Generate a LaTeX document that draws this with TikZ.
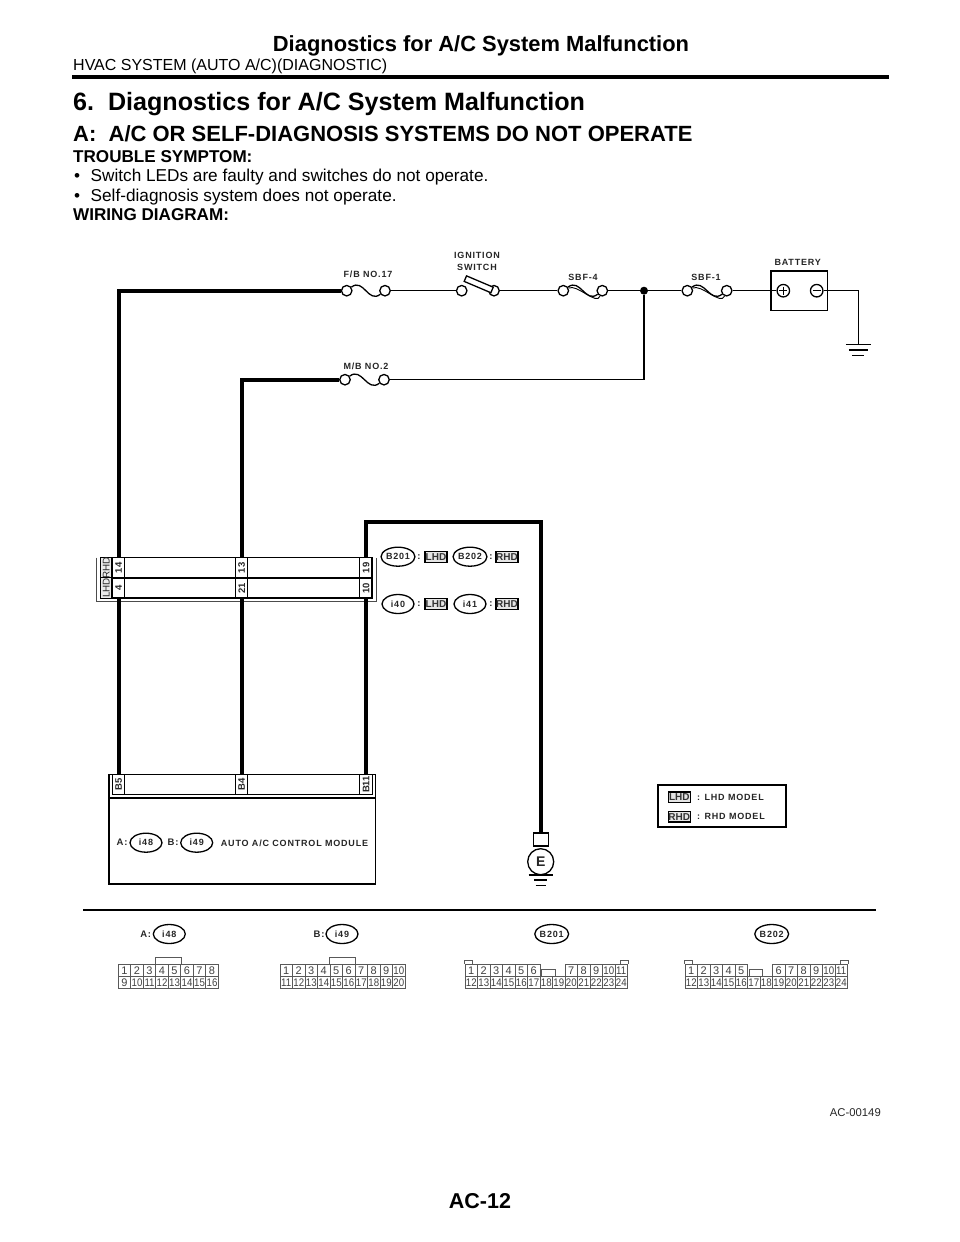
\documentclass[tikz,border=0pt]{standalone}
\usepackage{fontspec}
\usetikzlibrary{shapes.geometric}
\setmainfont{Liberation Sans}
\newfontfamily\labelfont[LetterSpace=9]{Liberation Sans}
\newcommand{\pinlabel}[1]{\ifnum#1>9 \scalebox{.88}[1]{#1}\else #1\fi}

\begin{document}
\begin{tikzpicture}
[x=1pt,y=-1pt,%
  textDecorate/.style={anchor=base west,inner sep=0pt},%
  labelDecorate/.style={inner sep=0pt,font=\labelfont\fontsize{9}{10}\selectfont\bfseries,text=black!85},%
  wireDecorate/.style={-,line width=1.5pt},%
  heavyDecorate/.style={-,line width=3.8pt},%
  fuseDecorate/.style={-,line width=1.3pt},%
  termDecorate/.style={shape=circle,draw,fill=white,line width=1.3pt,minimum size=10.5pt,inner sep=0pt},%
  connDecorate/.style={shape=ellipse,draw,line width=1.3pt,minimum width=32pt,minimum height=19pt,inner sep=0pt,font=\labelfont\fontsize{9}{10}\selectfont\bfseries,text=black!85},%
  tagDecorate/.style={draw,line width=1.3pt,fill=black!10,minimum width=22pt,minimum height=10.5pt,inner sep=0pt,font=\fontsize{10}{10}\selectfont\bfseries,text=black!80},%
  colDecorate/.style={draw,line width=1pt,rotate=90,minimum width=20.3pt,inner sep=0pt,font=\fontsize{9.5}{10}\selectfont\bfseries,text=black!85},%
  pinDecorate/.style={draw=black!65,line width=.8pt,minimum width=12.5pt,minimum height=12pt,inner sep=0pt,text height=8pt,text depth=0pt,font=\fontsize{11}{12}\selectfont,text=black!75}]
\useasboundingbox (0,0) rectangle (960,1242);
%% page text
\node (pageTitle) at (481,51.7) [anchor=base,inner sep=0pt,font=\fontsize{21.9}{24}\selectfont\bfseries] {Diagnostics for A/C System Malfunction};
\node (pageFoot) at (480,1208) [anchor=base,inner sep=0pt,font=\fontsize{21.5}{24}\selectfont\bfseries] {AC-12};
\node (figCode) at (881,1116) [anchor=base east,inner sep=0pt,font=\fontsize{11.3}{13}\selectfont,text=black!85] {AC-00149};
\foreach \nodename/\y/\size/\body in {
  sysName/70/16/{HVAC SYSTEM (AUTO A/C)(DIAGNOSTIC)},
  secTitle/110/25.1/{\bfseries 6.\ \ Diagnostics for A/C System Malfunction},
  subTitle/141/22/{\bfseries A:\ \ A/C OR SELF-DIAGNOSIS SYSTEMS DO NOT OPERATE},
  symptomHead/162/17.1/{\bfseries TROUBLE SYMPTOM:},
  wiringHead/220.7/17.1/{\bfseries WIRING DIAGRAM:}}
{
  \node (\nodename) at (73,\y) [textDecorate,font=\fontsize{\size}{\size}\selectfont] {\body};
}
\foreach \nodename/\y/\body in {
  symptomA/181.7/{Switch LEDs are faulty and switches do not operate.},
  symptomB/201.7/{Self-diagnosis system does not operate.}}
{
  \node (\nodename Dot) at (74,\y) [textDecorate,font=\fontsize{17.2}{17}\selectfont] {\textbullet};
  \node (\nodename) at (90.5,\y) [textDecorate,font=\fontsize{17.2}{17}\selectfont] {\body};
}
\draw[line width=4pt] (72,77) -- (889,77);
\draw[line width=1.4pt] (83,910) -- (876,910);
%% terminals of fuses and switch
\foreach \nodename/\x/\y in {
  fbFuseA/346.7/290.7, fbFuseB/385/290.7, ignA/461.7/290.7, ignB/494/290.7,
  sbfFourA/563.3/290.7, sbfFourB/602.3/290.7, sbfOneA/687.3/290.7, sbfOneB/726.7/290.7,
  mbFuseA/345/379.7, mbFuseB/384/379.7}
{
  \node (\nodename) at (\x,\y) [termDecorate] {};
}
\node (ignBlade) at (478.7,284.3) [draw,fill=white,line width=1.3pt,rotate=-23,minimum width=29pt,minimum height=6pt,inner sep=0pt] {};
\node (sbfDot) at (644,290.7) [shape=circle,fill=black,minimum size=8pt,inner sep=0pt] {};
%% battery
\node (battery) at (799.3,290.8) [draw,line width=1.5pt,minimum width=56.7pt,minimum height=39.7pt,inner sep=0pt] {};
\node (batPlus) at (783.3,290.7) [termDecorate,minimum size=12.5pt] {};
\node (batMinus) at (816.7,290.7) [termDecorate,minimum size=12.5pt] {};
\draw[line width=1.3pt] (batPlus.center) +(-4,0) -- +(4,0) (batPlus.center) +(0,-4) -- +(0,4);
\draw[line width=1.3pt] (batMinus.center) +(-4,0) -- +(4,0);
\coordinate (batGround) at (858.3,344.3);
%% text over the wiring
\foreach \nodename/\x/\y/\body in {
  fbLabel/368/274/{F/B NO.17}, ignLabelA/477/255.7/{IGNITION}, ignLabelB/477/267/{SWITCH},
  sbfFourLabel/583/277/{SBF-4}, sbfOneLabel/706/277/{SBF-1}, batLabel/797.7/262.7/{BATTERY},
  mbLabel/366/366/{M/B NO.2}}
{
  \node (\nodename) at (\x,\y) [labelDecorate] {\body};
}
%% harness connector, pin columns
\draw[line width=.9pt,black!70] (96,557.7) -- (96,601.7) -- (376,601.7) -- (376,557.7);
\draw[line width=1.2pt] (100.7,557.7) rectangle (372,598);
\draw[line width=1.2pt] (100.7,578) -- (372,578);
\foreach \nodename/\x/\y/\body in {
  tagRhd/106.2/567.9/RHD, tagLhd/106.2/588/LHD}
{
  \node (\nodename) at (\x,\y) [colDecorate,minimum height=11pt,font=\fontsize{9.8}{10}\selectfont,fill=black!8] {\body};
}
\foreach \nodename/\x/\y/\body in {
  pinA/118.7/567.9/14, pinB/118.7/588/4, pinC/241.7/567.9/13, pinD/241.7/588/21,
  pinE/366/567.9/19, pinF/366/588/10,
  modA/118.7/784.5/B5, modB/241.7/784.5/B4, modC/366/784.5/B11}
{
  \node (\nodename) at (\x,\y) [colDecorate,minimum height=12.4pt] {\body};
}
%% control module
\draw[line width=1.3pt] (109,884) rectangle (375.7,774.3);
\draw[line width=1.3pt] (109,798) -- (375.7,798);
\draw[line width=1.2pt] (112.7,794.7) -- (372,794.7);
\node (modColonA) at (122,842.7) [labelDecorate,font=\labelfont\fontsize{9.5}{10}\selectfont\bfseries] {A:};
\node (modColonB) at (173,842.7) [labelDecorate,font=\labelfont\fontsize{9.5}{10}\selectfont\bfseries] {B:};
\node (modName) at (220.7,846.2) [textDecorate,font=\labelfont\fontsize{9}{10}\selectfont\bfseries,text=black!85] {AUTO A/C CONTROL MODULE};
%% connector marks
\foreach \nodename/\x/\y/\body in {
  markB/398/556.7/B201, markC/470/556.7/B202, markD/398/604/i40, markE/470/604/i41,
  markF/146/842.7/i48, markG/196.7/842.7/i49,
  markH/169.3/934/i48, markI/342/934/i49, markJ/551.7/934/B201, markK/771.7/934/B202}
{
  \node (\nodename) at (\x,\y) [connDecorate] {\body};
}
\foreach \nodename/\x/\y/\body in {
  colonA/419/556.7/:, colonB/491/556.7/:, colonC/419/604/:, colonD/491/604/:,
  colonE/145.7/934/A:, colonF/319/934/B:}
{
  \node (\nodename) at (\x,\y) [labelDecorate,font=\labelfont\fontsize{9.5}{10}\selectfont\bfseries] {\body};
}
%% model tags
\foreach \nodename/\x/\y/\body in {
  tagA/436/557/LHD, tagB/507/557/RHD, tagC/436/604/LHD, tagD/507/604/RHD,
  tagE/679.3/797.3/LHD, tagF/679.3/816.8/RHD}
{
  \node (\nodename) at (\x,\y) [tagDecorate] {\body};
}
\draw[line width=1.4pt] (658,785) rectangle (786,827);
\node (keyLhd) at (697,800.3) [textDecorate,font=\labelfont\fontsize{9}{10}\selectfont\bfseries,text=black!85] {: LHD MODEL};
\node (keyRhd) at (697,819.8) [textDecorate,font=\labelfont\fontsize{9}{10}\selectfont\bfseries,text=black!85] {: RHD MODEL};
%% ground E
\node (earthBox) at (540.7,839.5) [draw,line width=1.3pt,minimum width=15pt,minimum height=13pt,inner sep=0pt] {};
\node (earthE) at (540.7,861.7) [shape=circle,draw,fill=white,line width=1.3pt,minimum size=26pt,inner sep=0pt,font=\fontsize{14}{14}\selectfont\bfseries,text=black!85] {E};
\coordinate (wireCorner) at (540.7,522);
%% edges or lines
\draw[wireDecorate] (fbFuseB) -- (ignA);
\draw[wireDecorate] (ignB) -- (sbfFourA);
\draw[wireDecorate] (sbfFourB) -- (sbfDot) -- (sbfOneA);
\draw[wireDecorate] (sbfOneB) -- (batPlus);
\draw[wireDecorate] (batMinus) -| (batGround);
\draw[wireDecorate] (sbfDot) |- (mbFuseB);
\draw[heavyDecorate] (fbFuseA) -| (pinA.east);
\draw[heavyDecorate] (mbFuseA) -| (pinC.east);
\draw[heavyDecorate] (pinE.east) |- (wireCorner) -- (earthBox.north);
\draw[heavyDecorate] (pinB.west) -- (modA.east);
\draw[heavyDecorate] (pinD.west) -- (modB.east);
\draw[heavyDecorate] (pinF.west) -- (modC.east);
\foreach \startnode/\endnode in {fbFuseA/fbFuseB, mbFuseA/mbFuseB}
{
  \draw[fuseDecorate] (\startnode) .. controls +(17,-13) and +(-17,13) .. (\endnode);
}
\foreach \startnode/\endnode in {sbfFourA/sbfFourB, sbfOneA/sbfOneB}
{
  \draw[fuseDecorate] (\startnode) .. controls +(17,-13) and +(-17,13) .. (\endnode);
  \draw[line width=.9pt] (\startnode) .. controls +(14,-7) and +(-6,15) .. (\endnode);
}
%% ground symbols
\foreach \gx/\gy/\w in {858.3/344.3/12.5, 858.3/350/9.5, 858.3/355.3/6,
  540.7/875/12, 540.7/880/6.5, 540.7/885.7/5}
{
  \draw[line width=1.3pt] (\gx-\w,\gy) -- (\gx+\w,\gy);
}
%% connector faces below the rule
\foreach \conn/\x/\y/\first/\cols in {
  faceA/118.3/970.2/1/{0,1,2,3,4,5,6,7}, faceA/118.3/982/9/{0,1,2,3,4,5,6,7},
  faceB/280/970.2/1/{0,1,2,3,4,5,6,7,8,9}, faceB/280/982/11/{0,1,2,3,4,5,6,7,8,9},
  faceC/465/970.2/1/{0,1,2,3,4,5,8,9,10,11,12}, faceC/465/982/12/{0,1,2,3,4,5,6,7,8,9,10,11,12},
  faceD/685/970.2/1/{0,1,2,3,4,7,8,9,10,11,12}, faceD/685/982/12/{0,1,2,3,4,5,6,7,8,9,10,11,12}}
{
  \foreach \col [count=\pin from \first] in \cols
  {
    \node (\conn-\pin) at (\x+6.25+12.5*\col,\y) [pinDecorate] {\pinlabel{\pin}};
  }
}
\draw[line width=.8pt,black!65] (faceA-4.north west) -- ++(0,-6.5) -| (faceA-5.north east);
\draw[line width=.8pt,black!65] (faceB-5.north west) -- ++(0,-6.5) -| (faceB-6.north east);
\draw[line width=.8pt,black!65] (faceC-1.north west) -- ++(0,-3.5) -- ++(7.5,0) -- ++(0,3.5);
\draw[line width=.8pt,black!65] (faceC-11.north east) -- ++(0,-3.5) -- ++(-7.5,0) -- ++(0,3.5);
\draw[line width=.8pt,black!65] (faceD-1.north west) -- ++(0,-3.5) -- ++(7.5,0) -- ++(0,3.5);
\draw[line width=.8pt,black!65] (faceD-11.north east) -- ++(0,-3.5) -- ++(-7.5,0) -- ++(0,3.5);
\draw[line width=.8pt,black!65] (faceC-18.north west) ++(2,0) -- ++(0,-6) -- ++(13.3,0) -- ++(0,6);
\draw[line width=.8pt,black!65] (faceD-17.north west) ++(2,0) -- ++(0,-6) -- ++(13.3,0) -- ++(0,6);
\end{tikzpicture}
\end{document}
